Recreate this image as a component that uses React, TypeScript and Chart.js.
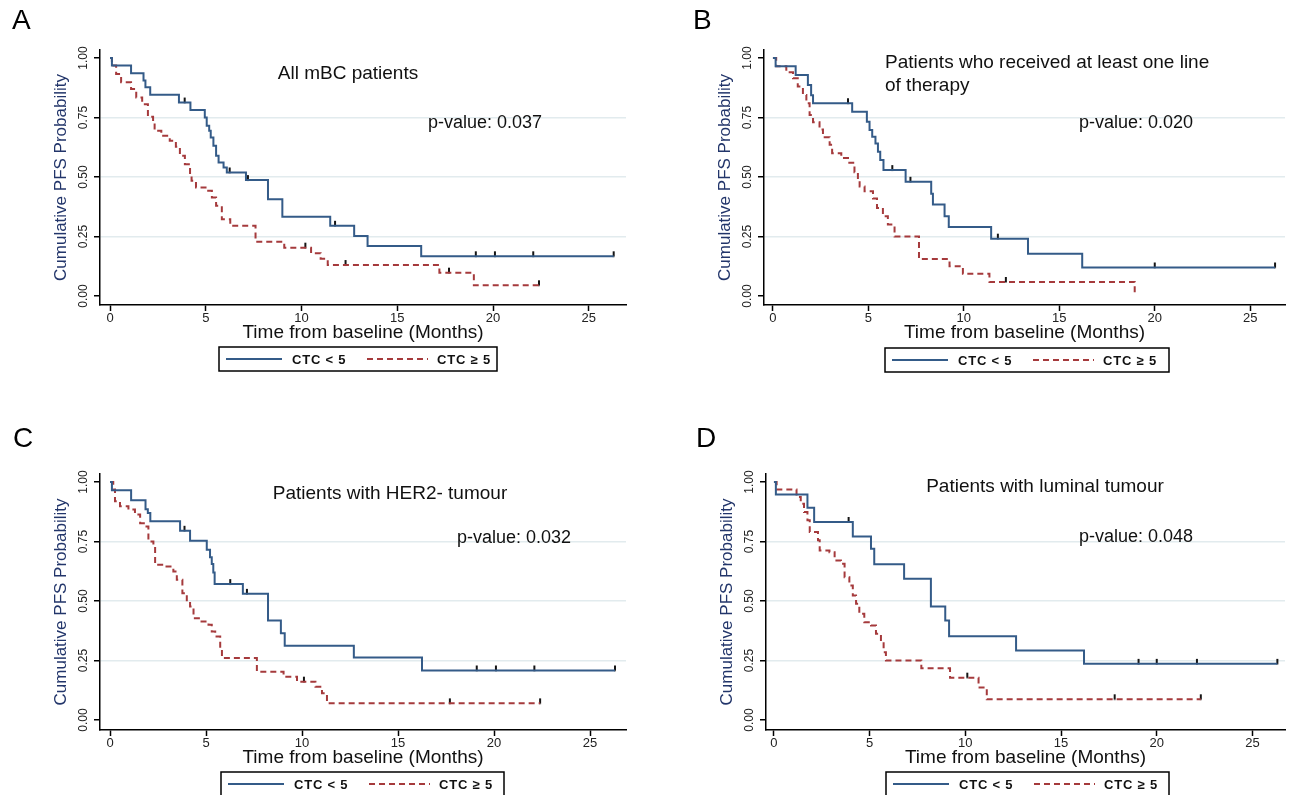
import React, { useEffect, useRef } from 'react';
import { Chart, registerables } from 'chart.js';

Chart.register(...registerables);

const FONT = "'Liberation Sans', Arial, Helvetica, sans-serif";
Chart.defaults.font.family = FONT;

// ---------- data ----------
const SERIES_LABELS = ['CTC < 5', 'CTC \u2265 5'];
const X_TICKS = [0, 5, 10, 15, 20, 25];
const Y_TICKS = [0, 0.25, 0.5, 0.75, 1];
const GRID_LEVELS = [0.25, 0.5, 0.75];
const X_TITLE = 'Time from baseline (Months)';
const Y_TITLE = 'Cumulative PFS Probability';
const PANEL_LETTERS = ['A', 'B', 'C', 'D'];
const PANEL_TITLES = [
  ['All mBC patients'],
  ['Patients who received at least one line', 'of therapy'],
  ['Patients with HER2- tumour'],
  ['Patients with luminal tumour'],
];
const P_VALUES = ['0.037', '0.020', '0.032', '0.048'];

// Panel A
const A_BLUE_T = [0, 0.1, 1.1, 1.75, 1.85, 2.1, 3.6, 4.2, 4.95, 5.05, 5.18, 5.26, 5.4, 5.54, 5.67, 5.93, 6.1, 7.1, 8.25, 9.0, 11.5, 12.75, 13.45, 16.25, 26.3];
const A_BLUE_S = [1, 0.968, 0.936, 0.905, 0.877, 0.846, 0.813, 0.781, 0.75, 0.715, 0.694, 0.666, 0.631, 0.589, 0.561, 0.54, 0.519, 0.487, 0.407, 0.333, 0.295, 0.252, 0.21, 0.167, 0.167];
const A_BLUE_CENS = [3.9, 6.25, 7.2, 11.75, 19.1, 20.1, 22.1, 26.3];
const A_RED_T = [0, 0.1, 0.32, 0.58, 1.1, 1.37, 1.68, 1.98, 2.25, 2.33, 2.68, 3.12, 3.44, 3.65, 3.91, 4.18, 4.26, 4.49, 5.05, 5.32, 5.54, 5.84, 6.28, 7.6, 9.1, 10.5, 11.0, 11.37, 17.2, 19.0, 22.4];
const A_RED_S = [1, 0.968, 0.933, 0.898, 0.87, 0.834, 0.806, 0.753, 0.729, 0.694, 0.673, 0.652, 0.627, 0.589, 0.554, 0.512, 0.484, 0.456, 0.442, 0.414, 0.379, 0.323, 0.295, 0.228, 0.203, 0.18, 0.156, 0.13, 0.098, 0.045, 0.045];
const A_RED_CENS = [10.2, 12.3, 17.7, 22.4];

// Panel B
const B_BLUE_T = [0, 0.14, 1.19, 1.83, 2.0, 2.1, 4.15, 4.92, 5.06, 5.2, 5.37, 5.5, 5.62, 5.79, 6.95, 8.29, 8.38, 8.99, 9.21, 11.43, 13.36, 16.2, 26.3];
const B_BLUE_S = [1, 0.965, 0.929, 0.887, 0.844, 0.81, 0.774, 0.732, 0.697, 0.669, 0.641, 0.606, 0.571, 0.529, 0.48, 0.43, 0.384, 0.335, 0.29, 0.241, 0.178, 0.12, 0.12];
const B_BLUE_CENS = [3.93, 6.25, 7.2, 11.78, 20.0, 26.3];
const B_RED_T = [0, 0.17, 0.7, 1.05, 1.3, 1.57, 1.75, 1.92, 2.1, 2.44, 2.62, 2.97, 3.1, 3.58, 4.0, 4.27, 4.45, 4.54, 4.8, 5.24, 5.45, 5.76, 6.02, 6.37, 7.65, 9.25, 9.95, 11.34, 18.95];
const B_RED_S = [1, 0.965, 0.94, 0.915, 0.88, 0.845, 0.81, 0.76, 0.73, 0.7, 0.667, 0.635, 0.6, 0.58, 0.56, 0.52, 0.49, 0.46, 0.44, 0.41, 0.37, 0.335, 0.3, 0.25, 0.155, 0.125, 0.094, 0.059, 0];
const B_RED_CENS = [12.2];

// Panel C
const C_BLUE_T = [0, 0.1, 1.1, 1.85, 1.97, 2.1, 3.65, 4.17, 5.04, 5.21, 5.3, 5.38, 5.45, 6.92, 8.23, 8.9, 9.1, 12.7, 16.25, 26.3];
const C_BLUE_S = [1, 0.965, 0.923, 0.886, 0.87, 0.835, 0.795, 0.753, 0.715, 0.684, 0.655, 0.62, 0.571, 0.53, 0.418, 0.365, 0.312, 0.263, 0.208, 0.208];
const C_BLUE_CENS = [3.88, 6.26, 7.13, 19.1, 20.1, 22.1, 26.3];
const C_RED_T = [0, 0.17, 0.26, 0.52, 0.96, 1.3, 1.57, 1.83, 2.0, 2.26, 2.35, 2.87, 3.3, 3.48, 3.77, 4.0, 4.17, 4.35, 4.7, 5.13, 5.3, 5.48, 5.74, 5.83, 7.65, 9.04, 9.74, 10.7, 11.04, 11.3, 22.4];
const C_RED_S = [1, 0.968, 0.919, 0.898, 0.884, 0.863, 0.827, 0.813, 0.75, 0.736, 0.652, 0.645, 0.624, 0.589, 0.533, 0.498, 0.477, 0.428, 0.414, 0.4, 0.372, 0.351, 0.295, 0.26, 0.203, 0.182, 0.161, 0.14, 0.112, 0.07, 0.07];
const C_RED_CENS = [10.1, 17.7, 22.4];

// Panel D
const D_BLUE_T = [0, 0.1, 1.75, 2.1, 4.12, 5.07, 5.24, 6.8, 8.2, 8.95, 9.15, 12.65, 16.2, 26.3];
const D_BLUE_S = [1, 0.948, 0.892, 0.832, 0.771, 0.72, 0.654, 0.593, 0.477, 0.418, 0.352, 0.292, 0.236, 0.236];
const D_BLUE_CENS = [3.9, 19.05, 20.0, 22.1, 26.3];
const D_RED_T = [0, 0.14, 1.18, 1.4, 1.57, 1.75, 1.87, 2.3, 2.39, 2.9, 3.17, 3.5, 3.69, 3.94, 4.12, 4.29, 4.46, 4.72, 5.07, 5.33, 5.59, 5.73, 5.85, 7.7, 9.2, 10.69, 11.12, 22.3];
const D_RED_S = [1, 0.968, 0.937, 0.909, 0.874, 0.839, 0.79, 0.755, 0.712, 0.705, 0.67, 0.656, 0.6, 0.565, 0.523, 0.488, 0.446, 0.411, 0.397, 0.362, 0.327, 0.285, 0.25, 0.217, 0.178, 0.137, 0.087, 0.087];
const D_RED_CENS = [10.1, 17.8, 22.3];

// ---------- styling / layout ----------
const BLUE = '#345b88';
const RED = '#a53a3c';
const Y_W = 60;
const X_H = 39;

const LAYOUTS = [
  { left: 0, top: 0, w: 645, h: 424, axisL: 100, axisR: 626, axisT: 50, axisB: 305, t0: 110, ppm: 19.15, p1: 58, p0: 296,
    letterX: 12, letterY: 29, titleX: 348, titleY: 74, titleAlign: 'center', pX: 428, pY: 123, legX: 219, legY: 347, legW: 278 },
  { left: 645, top: 0, w: 645, h: 424, axisL: 119, axisR: 643, axisT: 50, axisB: 305, t0: 128, ppm: 19.2, p1: 58, p0: 296,
    letterX: 48, letterY: 29, titleX: 240, titleY: 63, titleAlign: 'left', pX: 434, pY: 123, legX: 240, legY: 348, legW: 284 },
  { left: 0, top: 424, w: 645, h: 371, axisL: 100, axisR: 626, axisT: 50, axisB: 306, t0: 110, ppm: 19.2, p1: 58, p0: 296,
    letterX: 13, letterY: 23, titleX: 390, titleY: 70, titleAlign: 'center', pX: 457, pY: 114, legX: 221, legY: 348, legW: 283 },
  { left: 645, top: 424, w: 645, h: 371, axisL: 121, axisR: 643, axisT: 50, axisB: 306, t0: 129, ppm: 19.25, p1: 58, p0: 296,
    letterX: 51, letterY: 23, titleX: 400, titleY: 63, titleAlign: 'center', pX: 434, pY: 113, legX: 241, legY: 348, legW: 283 },
];

const PANEL_DATA = [
  { blueT: A_BLUE_T, blueS: A_BLUE_S, blueC: A_BLUE_CENS, redT: A_RED_T, redS: A_RED_S, redC: A_RED_CENS },
  { blueT: B_BLUE_T, blueS: B_BLUE_S, blueC: B_BLUE_CENS, redT: B_RED_T, redS: B_RED_S, redC: B_RED_CENS },
  { blueT: C_BLUE_T, blueS: C_BLUE_S, blueC: C_BLUE_CENS, redT: C_RED_T, redS: C_RED_S, redC: C_RED_CENS },
  { blueT: D_BLUE_T, blueS: D_BLUE_S, blueC: D_BLUE_CENS, redT: D_RED_T, redS: D_RED_S, redC: D_RED_CENS },
];

function stepAt(times: number[], vals: number[], t: number) {
  let v = vals[0];
  for (let i = 0; i < times.length; i++) {
    if (times[i] <= t) v = vals[i];
    else break;
  }
  return v;
}

// small upward tick used as the censoring marker (drawn above the point)
function makeCensorMark() {
  const c = document.createElement('canvas');
  c.width = 4;
  c.height = 12;
  const g = c.getContext('2d')!;
  g.fillStyle = '#151515';
  g.fillRect(1, 1, 2, 5.5);
  return c;
}

const decorPlugin = {
  id: 'kmDecor',
  afterDraw(chart: any, _args: any, opts: any) {
    const ctx = chart.ctx;
    ctx.save();
    // panel letter
    ctx.fillStyle = '#000';
    ctx.textAlign = 'left';
    ctx.textBaseline = 'alphabetic';
    ctx.font = `28px ${FONT}`;
    ctx.fillText(opts.letter, opts.letterX, opts.letterY);
    // inner title
    ctx.fillStyle = '#111';
    ctx.font = `19px ${FONT}`;
    ctx.textAlign = opts.titleAlign;
    ctx.textBaseline = 'middle';
    opts.title.forEach((line: string, i: number) => ctx.fillText(line, opts.titleX, opts.titleY + i * 23));
    // p-value
    ctx.textAlign = 'left';
    ctx.font = `18px ${FONT}`;
    ctx.fillText('p-value: ' + opts.p, opts.pX, opts.pY);
    // legend box
    const h = 24;
    ctx.strokeStyle = '#000';
    ctx.lineWidth = 1.5;
    ctx.strokeRect(opts.legX, opts.legY, opts.legW, h);
    const midY = opts.legY + h / 2;
    const ds = chart.data.datasets;
    const items = [
      { ds: ds[0], x0: 7, x1: 63, tx: 73 },
      { ds: ds[1], x0: 148, x1: 209, tx: 218 },
    ];
    ctx.font = `bold 13px ${FONT}`;
    (ctx as any).letterSpacing = '0.8px';
    items.forEach((it) => {
      ctx.save();
      ctx.strokeStyle = it.ds.borderColor;
      ctx.lineWidth = it.ds.borderWidth;
      ctx.setLineDash(it.ds.borderDash || []);
      ctx.beginPath();
      ctx.moveTo(opts.legX + it.x0, midY);
      ctx.lineTo(opts.legX + it.x1, midY);
      ctx.stroke();
      ctx.restore();
      ctx.fillStyle = '#111';
      ctx.textAlign = 'left';
      ctx.textBaseline = 'middle';
      ctx.fillText(it.ds.label, opts.legX + it.tx, midY + 1);
    });
    ctx.restore();
  },
};

function Panel({ idx }: { idx: number }) {
  const ref = useRef<HTMLCanvasElement | null>(null);
  const L: any = LAYOUTS[idx];
  const D = PANEL_DATA[idx];

  useEffect(() => {
    if (!ref.current) return;
    const xmin = (L.axisL - L.t0) / L.ppm;
    const xmax = (L.axisR - L.t0) / L.ppm;
    const span = L.p0 - L.p1;
    const ymin = (L.p0 - L.axisB) / span;
    const ymax = (L.p0 - L.axisT) / span;
    const mark = makeCensorMark();

    const curve = (T: number[], S: number[]) => T.map((t, i) => ({ x: t, y: S[i] }));
    const cens = (C: number[], T: number[], S: number[]) => C.map((t) => ({ x: t, y: stepAt(T, S, t) }));

    const chart = new Chart(ref.current, {
      type: 'scatter',
      data: {
        datasets: [
          {
            label: SERIES_LABELS[0],
            data: curve(D.blueT, D.blueS),
            showLine: true,
            stepped: 'before',
            borderColor: BLUE,
            backgroundColor: BLUE,
            borderWidth: 2,
            pointRadius: 0,
            borderJoinStyle: 'miter',
          } as any,
          {
            label: SERIES_LABELS[1],
            data: curve(D.redT, D.redS),
            showLine: true,
            stepped: 'before',
            borderColor: RED,
            backgroundColor: RED,
            borderWidth: 2,
            borderDash: [6, 4],
            pointRadius: 0,
            borderJoinStyle: 'miter',
          } as any,
          {
            label: 'censored ' + SERIES_LABELS[0],
            data: cens(D.blueC, D.blueT, D.blueS),
            pointStyle: mark,
            pointRadius: 4,
          } as any,
          {
            label: 'censored ' + SERIES_LABELS[1],
            data: cens(D.redC, D.redT, D.redS),
            pointStyle: mark,
            pointRadius: 4,
          } as any,
        ],
      },
      options: {
        animation: false,
        responsive: true,
        maintainAspectRatio: false,
        events: [],
        layout: {
          padding: {
            left: L.axisL - Y_W,
            top: L.axisT,
            right: L.w - L.axisR,
            bottom: L.h - L.axisB - X_H,
          },
        },
        plugins: {
          legend: { display: false },
          tooltip: { enabled: false },
          kmDecor: {
            letter: PANEL_LETTERS[idx],
            title: PANEL_TITLES[idx],
            p: P_VALUES[idx],
            letterX: L.letterX,
            letterY: L.letterY,
            titleX: L.titleX,
            titleY: L.titleY,
            titleAlign: L.titleAlign,
            pX: L.pX,
            pY: L.pY,
            legX: L.legX,
            legY: L.legY,
            legW: L.legW,
          },
        } as any,
        scales: {
          x: {
            type: 'linear',
            position: 'bottom',
            min: xmin,
            max: xmax,
            afterFit: (s: any) => { s.height = X_H; },
            afterBuildTicks: (s: any) => { s.ticks = X_TICKS.map((v) => ({ value: v })); },
            ticks: {
              color: '#222',
              font: { size: 13 },
              padding: 0,
              maxRotation: 0,
              callback: (v: any) => String(v),
            },
            grid: {
              drawOnChartArea: false,
              drawTicks: true,
              tickLength: 6,
              tickColor: '#000',
              tickWidth: 1.5,
            },
            border: { display: true, color: '#000', width: 1.5 },
            title: {
              display: true,
              text: X_TITLE,
              color: '#111',
              font: { size: 19 },
              padding: { top: 0, bottom: 0 },
            },
          },
          y: {
            type: 'linear',
            position: 'left',
            min: ymin,
            max: ymax,
            afterFit: (s: any) => { s.width = Y_W; },
            afterBuildTicks: (s: any) => { s.ticks = Y_TICKS.map((v) => ({ value: v })); },
            ticks: {
              color: '#222',
              font: { size: 12 },
              minRotation: 90,
              maxRotation: 90,
              crossAlign: 'center',
              padding: -1,
              callback: (v: any) => Number(v).toFixed(2),
            },
            grid: {
              color: (c: any) => (c.tick && GRID_LEVELS.includes(c.tick.value) ? '#e2ebee' : 'rgba(0,0,0,0)'),
              lineWidth: 1.5,
              drawTicks: true,
              tickLength: 6,
              tickColor: '#000',
              tickWidth: 1.5,
            },
            border: { display: true, color: '#000', width: 1.5 },
            title: {
              display: true,
              text: Y_TITLE,
              color: '#22356a',
              font: { size: 17 },
              padding: { top: 11, bottom: 0 },
            },
          },
        },
      } as any,
      plugins: [decorPlugin as any],
    });
    return () => chart.destroy();
  }, []);

  return (
    <div style={{ position: 'absolute', left: L.left, top: L.top, width: L.w, height: L.h }}>
      <canvas ref={ref} />
    </div>
  );
}

export default function App() {
  return (
    <div style={{ position: 'absolute', left: 0, top: 0, width: 1290, height: 795, overflow: 'hidden', background: '#fff' }}>
      {PANEL_LETTERS.map((_, i) => (
        <Panel key={i} idx={i} />
      ))}
    </div>
  );
}
